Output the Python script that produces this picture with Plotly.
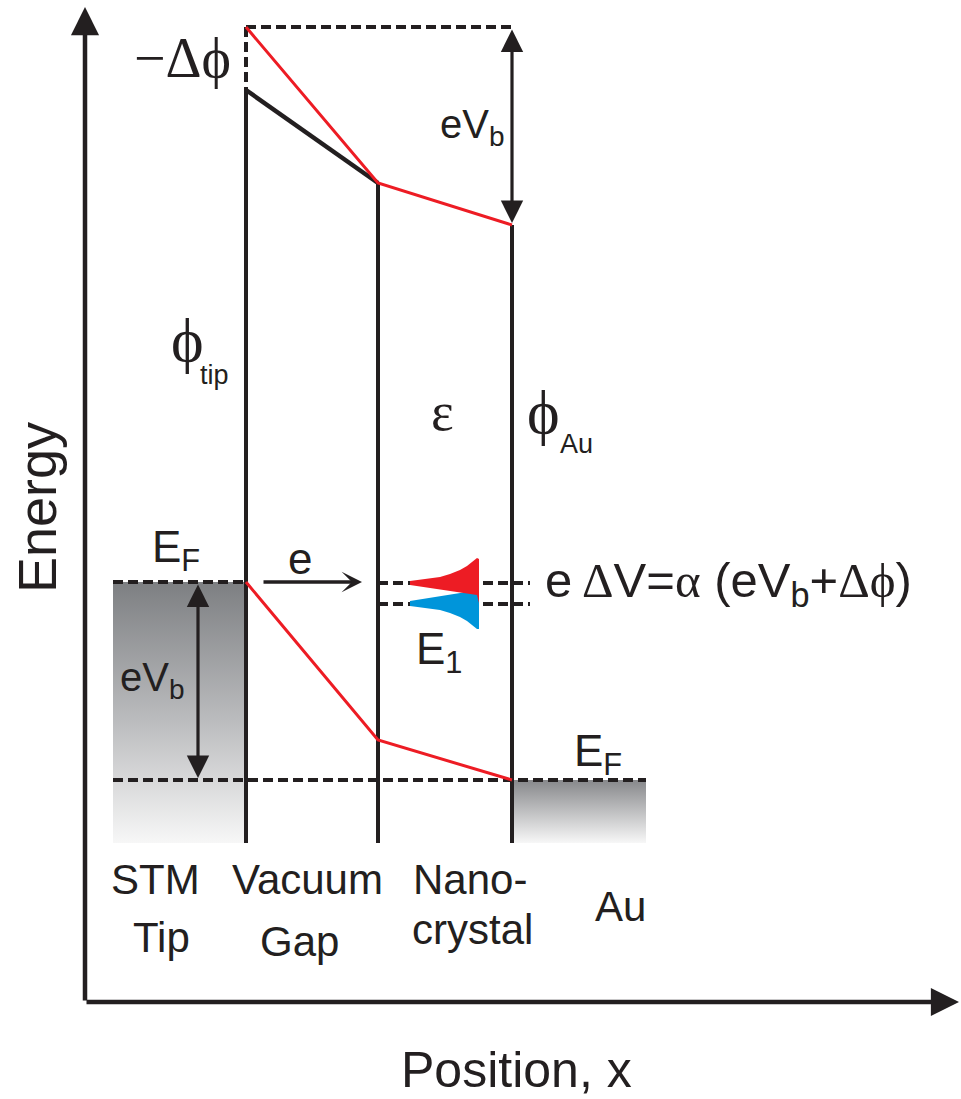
import plotly.graph_objects as go

# ---------------- data (schematic units) ----------------
# x : position along the junction;  E : energy relative to the Au Fermi level
x_interfaces = [246, 378, 512]          # tip|gap, gap|nanocrystal, nanocrystal|Au
x_tip_left = 113
x_au_right = 646
E_F_tip = 198                            # tip Fermi level (raised by eV_b)
E_F_au = 0                               # Au Fermi level
E_floor = -63                            # bottom of drawn metal bands
vac_black = [690, 597]                   # vacuum level without field (tip -> NC)
vac_red = [753, 597, 555]                # vacuum level with bias (tip -> NC -> Au)
fermi_red = [198, 40, 0]                 # potential drop across gap and NC
E_levels = [197, 176]                    # shifted E1 level / unshifted
peak_x = [410, 425, 440, 450, 460, 467, 472, 477]   # DOS peak profile
peak_h = [2, 4, 6, 9, 13, 17, 21, 25]
region_lines = ["STM", "Tip", "Vacuum", "Gap", "Nano-", "crystal", "Au"]
region_x = [155, 161, 307, 299, 411, 410, 620]
region_E = [-74, -132, -74, -136, -74, -124, -101]
region_anchor = ["center", "center", "center", "center", "left", "left", "center"]

# axis frame
x0, E0 = 85, -222
x_end, E_top = 959, 773

BLACK = "#231f20"
RED = "#ed1c24"
BLUE = "#0095da"
SANS = "Liberation Sans, Arial, sans-serif"
SERIF = "Liberation Serif, Times New Roman, serif"

fig = go.Figure()


def line(xs, ys, color=BLACK, width=4, dash=None):
    fig.add_trace(go.Scatter(x=xs, y=ys, mode="lines",
                             line=dict(color=color, width=width, dash=dash),
                             hoverinfo="skip", showlegend=False))


# gradient-filled metal bands
fig.add_trace(go.Scatter(
    x=[x_tip_left, x_interfaces[0], x_interfaces[0], x_tip_left, x_tip_left],
    y=[E_F_tip, E_F_tip, E_floor, E_floor, E_F_tip],
    mode="lines", line=dict(width=0), fill="toself",
    fillgradient=dict(type="vertical", start=E_F_tip, stop=E_floor,
                      colorscale=[[0, "#7d7f82"], [0.55, "#bdbec0"], [1, "#f7f7f7"]]),
    hoverinfo="skip", showlegend=False))
fig.add_trace(go.Scatter(
    x=[x_interfaces[2], x_au_right, x_au_right, x_interfaces[2], x_interfaces[2]],
    y=[E_F_au, E_F_au, E_floor, E_floor, E_F_au],
    mode="lines", line=dict(width=0), fill="toself",
    fillgradient=dict(type="vertical", start=E_F_au, stop=E_floor,
                      colorscale=[[0, "#87888b"], [1, "#f7f7f7"]]),
    hoverinfo="skip", showlegend=False))

DASH = "10px,5px"
DW = 4
# dashed reference levels
line([x_tip_left, x_interfaces[0]], [E_F_tip, E_F_tip], width=DW, dash=DASH)
line([x_tip_left, x_au_right], [E_F_au, E_F_au], width=DW, dash=DASH)
line([x_interfaces[0], x_interfaces[2]], [vac_red[0], vac_red[0]], width=DW, dash=DASH)
line([x_interfaces[0], x_interfaces[0]], [vac_red[0], vac_black[0]], width=DW, dash=DASH)
for lev in E_levels:
    line([x_interfaces[1], 530], [lev, lev], width=DW, dash=DASH)

# interfaces
line([x_interfaces[0], x_interfaces[0]], [vac_black[0], E_floor])
line([x_interfaces[1], x_interfaces[1]], [vac_black[1], E_floor])
line([x_interfaces[2], x_interfaces[2]], [vac_red[2], E_floor])

# vacuum level without bias
line(x_interfaces[:2], vac_black, width=4.5)
# biased potential profile
line(x_interfaces, vac_red, color=RED, width=3)
line(x_interfaces, fermi_red, color=RED, width=3)

# DOS peaks: blue (unshifted) then red (shifted)
bx = [peak_x[0], peak_x[-1], peak_x[-1] + 2] + [peak_x[-1] + 2] + peak_x[::-1]
by = [E_levels[1] + 3, E_levels[1] + 14, E_levels[1] + 14] + \
     [E_levels[1] - peak_h[-1]] + [E_levels[1] - h for h in peak_h[::-1]]
fig.add_trace(go.Scatter(x=bx, y=by, mode="lines", line=dict(width=0),
                         fill="toself", fillcolor=BLUE, hoverinfo="skip", showlegend=False))
rx = peak_x + [peak_x[-1] + 2, peak_x[-1] + 2, peak_x[-1], peak_x[0]]
ry = [E_levels[0] + h for h in peak_h] + \
     [E_levels[0] + peak_h[-1] - 1, E_levels[1] + 1, E_levels[0] - 12, E_levels[0] - 2]
fig.add_trace(go.Scatter(x=rx, y=ry, mode="lines", line=dict(width=0),
                         fill="toself", fillcolor=RED, hoverinfo="skip", showlegend=False))

ann = []


def arrow(x, y, ax, ay, width=3, head=2, size=1.45, both=False):
    ann.append(dict(x=x, y=y, ax=ax, ay=ay, xref="x", yref="y", axref="x", ayref="y",
                    showarrow=True, arrowhead=head, arrowsize=size, arrowwidth=width,
                    arrowcolor=BLACK, startarrowhead=head, startarrowsize=size,
                    arrowside="end+start" if both else "end", text="", standoff=0,
                    startstandoff=0))


# axes
arrow(x0, E_top, x0, E0, width=4.5, size=1.25)
arrow(x_end, E0, x0, E0, width=4.5, size=1.25)
# eV_b arrows
arrow(x_interfaces[2], vac_red[2] + 2, x_interfaces[2], vac_red[0] - 1, width=3.2, size=1.4, both=True)
arrow(198, E_F_au + 2, 198, E_F_tip - 1, width=3.2, size=1.4, both=True)
# electron tunnelling arrow
arrow(362, E_F_tip, 262, E_F_tip, width=3.4, head=3, size=1.0)


def text(x, y, s, size=40, font=SANS, xanchor="center", yanchor="middle", angle=0):
    ann.append(dict(x=x, y=y, xref="x", yref="y", text=s, showarrow=False,
                    font=dict(family=font, size=size, color=BLACK),
                    xanchor=xanchor, yanchor=yanchor, textangle=angle, align="left"))


def serif(s):
    return f'<span style="font-family:{SERIF}">{s}</span>'


text(37, 272, "Energy", size=54, angle=-90)
text(516, -290, "Position, x", size=50)
text(233, 722, serif("\u2212\u0394\u03d5"), size=56, xanchor="right")
text(472, 653, "eV<sub>b</sub>", size=40)
text(152, 100, "eV<sub>b</sub>", size=40)
# work functions (subscripts placed separately to sit low like the original)
text(187, 440, serif("\u03d5"), size=62)
text(198, 405, "tip", size=27, xanchor="left")
text(543, 368, serif("\u03d5"), size=62)
text(558, 336, "Au", size=27, xanchor="left")
text(442, 368, serif("\u03b5"), size=54)
text(150, 230, "E<sub>F</sub>", size=44, xanchor="left")
text(572, 26, "E<sub>F</sub>", size=44, xanchor="left")
text(300, 222, "e", size=44)
text(414, 128, "E<sub>1</sub>", size=44, xanchor="left")
text(543, 197,
     "e" + serif("\u2009\u0394") + "V=" + serif("\u03b1") + " (eV<sub>b</sub>+" + serif("\u0394\u03d5") + ")",
     size=49, xanchor="left")
for lab, lx, ly, anc in zip(region_lines, region_x, region_E, region_anchor):
    text(lx, ly, lab, size=42, xanchor=anc, yanchor="top")

fig.update_layout(
    width=961, height=1099, margin=dict(l=0, r=0, t=0, b=0),
    paper_bgcolor="white", plot_bgcolor="white",
    xaxis=dict(range=[0, 961], visible=False, fixedrange=True),
    yaxis=dict(range=[-319, 780], visible=False, fixedrange=True),
    annotations=ann, showlegend=False,
)
fig.write_html("out.html")
